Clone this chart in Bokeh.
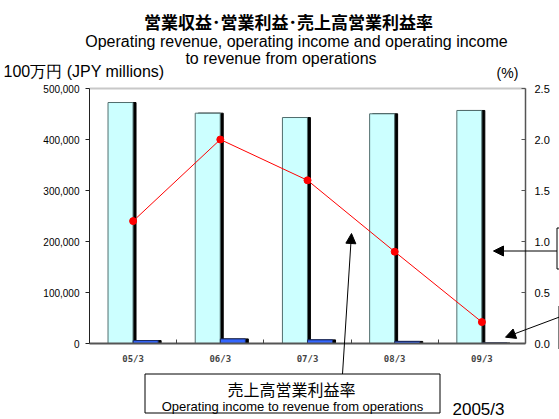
from bokeh.plotting import figure
from bokeh.models import (Range1d, LinearAxis, FixedTicker, NumeralTickFormatter, Label,
                          Arrow, NormalHead, PolyAnnotation, ColumnDataSource)
from bokeh.transform import dodge
from bokeh.embed import file_html
from bokeh.resources import INLINE

# ---- data ----
periods = ["05/3", "06/3", "07/3", "08/3", "09/3"]
revenue = [472500, 451600, 443100, 450400, 456900]      # 100万円
op_income = [5700, 9000, 7100, 4100, 1000]              # 100万円
margin_pct = [1.20, 2.00, 1.60, 0.90, 0.21]             # %
left_ticks = [0, 100000, 200000, 300000, 400000, 500000]
right_ticks = [0.0, 0.5, 1.0, 1.5, 2.0, 2.5]
LEFT_MAX, RIGHT_MAX = 500000, 2.5

xs = [i + 0.5 for i in range(len(periods))]
src = ColumnDataSource(dict(x=xs, revenue=revenue, op_income=op_income, margin=margin_pct))

# ---- layout (canvas pixels) ----
W, H = 559, 419
AX_L, AX_R, AX_T, AX_B = 89, 525, 88, 343   # plot box in canvas pixels
N = len(periods)

def px_x(X):
    return (X - AX_L) / (AX_R - AX_L) * N
def px_y(Y):
    return (AX_B - Y) / (AX_B - AX_T) * LEFT_MAX
def px_p(Y):
    return (AX_B - Y) / (AX_B - AX_T) * RIGHT_MAX

p = figure(width=W, height=H,
           x_range=Range1d(px_x(0), px_x(W)), y_range=Range1d(px_y(H), px_y(0)),
           output_backend="svg", toolbar_location=None, min_border=0,
           x_axis_type=None, y_axis_type=None)
p.extra_y_ranges = {"pct": Range1d(px_p(H), px_p(0))}
p.xgrid.visible = False
p.ygrid.visible = False
p.outline_line_color = None
p.background_fill_color = "white"
p.border_fill_color = "white"

BW, OFF, SH = 0.287, 0.144, 0.034
p.vbar(x=dodge("x", -OFF + SH), top="revenue", width=BW, source=src,
       fill_color="black", line_color="black")
p.vbar(x=dodge("x", -OFF), top="revenue", width=BW, source=src,
       fill_color="#ccffff", line_color="#526e6e", line_width=1)
p.vbar(x=dodge("x", OFF + SH), top="op_income", width=BW, source=src,
       fill_color="black", line_color="black")
p.vbar(x=dodge("x", OFF), top="op_income", width=BW, source=src,
       fill_color="#3366ff", line_color="#1a2a66", line_width=1)

p.line("x", "margin", source=src, y_range_name="pct", line_color="red", line_width=1)
p.scatter("x", "margin", source=src, y_range_name="pct", size=7,
          fill_color="red", line_color="red")

# x axis
xa = LinearAxis(fixed_location=0, bounds=(0, N),
                ticker=FixedTicker(ticks=xs, minor_ticks=list(range(1, N))))
xa.major_label_overrides = {x: lab for x, lab in zip(xs, periods)}
xa.major_tick_line_color = None
xa.minor_tick_in = 4
xa.minor_tick_out = 0
xa.minor_tick_line_color = "#444444"
xa.axis_line_color = "#555555"
xa.axis_line_width = 2
xa.major_label_text_font = "DejaVu Sans Mono"
xa.major_label_text_font_size = "9px"
xa.major_label_text_font_style = "bold"
xa.major_label_text_color = "#444444"
xa.major_label_standoff = 4
p.add_layout(xa, "below")

# top frame line
ta = LinearAxis(fixed_location=LEFT_MAX, bounds=(0, N), ticker=FixedTicker(ticks=[]))
ta.axis_line_color = "#c8c8c8"
ta.axis_line_width = 2
ta.major_tick_line_color = None
ta.minor_tick_line_color = None
ta.major_label_text_font_size = "0px"
p.add_layout(ta, "above")

# left axis
ya = LinearAxis(fixed_location=0, bounds=(0, LEFT_MAX), ticker=FixedTicker(ticks=left_ticks),
                formatter=NumeralTickFormatter(format="0,0"))
ya.major_tick_out = 4
ya.major_tick_in = 0
ya.minor_tick_line_color = None
ya.axis_line_color = "#222222"
ya.major_tick_line_color = "#222222"
ya.major_label_text_font = "Liberation Sans"
ya.major_label_text_font_size = "10px"
ya.major_label_text_color = "black"
ya.major_label_standoff = 6
p.add_layout(ya, "left")

# right axis
ra = LinearAxis(y_range_name="pct", fixed_location=N, bounds=(0, RIGHT_MAX),
                ticker=FixedTicker(ticks=right_ticks),
                formatter=NumeralTickFormatter(format="0.0"))
ra.major_tick_in = 4
ra.major_tick_out = 0
ra.minor_tick_line_color = None
ra.axis_line_color = "#555555"
ra.axis_line_width = 1.5
ra.major_tick_line_color = "#555555"
ra.major_label_text_font = "Liberation Sans"
ra.major_label_text_font_size = "11px"
ra.major_label_text_color = "black"
ra.major_label_standoff = 9
p.add_layout(ra, "right")

def lab(text, X, Y, size, align="left", font="Liberation Sans", bold=False):
    p.add_layout(Label(x=px_x(X), y=px_y(Y), text=text, text_font=font,
                       text_font_size=size, text_align=align, text_baseline="middle",
                       text_font_style="bold" if bold else "normal", text_color="black"))

def seg(X0, Y0, X1, Y1, head=False):
    p.add_layout(Arrow(end=NormalHead(size=10, fill_color="black", line_color="black") if head else None,
                       x_start=px_x(X0), y_start=px_y(Y0), x_end=px_x(X1), y_end=px_y(Y1),
                       line_color="black", line_width=1))

def box(L, R, T, B):
    p.add_layout(PolyAnnotation(xs=[px_x(L), px_x(R), px_x(R), px_x(L)],
                                ys=[px_y(T), px_y(T), px_y(B), px_y(B)],
                                fill_color="white", fill_alpha=1, line_color=None))
    seg(L, T, R, T)
    seg(R, T, R, B)
    seg(R, B, L, B)
    seg(L, B, L, T)

lab("営業収益･営業利益･売上高営業利益率", 288, 20.5, "17px", align="center",
    font="Noto Sans CJK JP", bold=True)
lab("Operating revenue, operating income and operating income", 296, 41.1, "16px", align="center")
lab("to revenue from operations", 280.5, 58.4, "16px", align="center")
lab("100万円 (JPY millions)", 3, 71.4, "16px")
lab("(%)", 507, 72, "14px", align="center")

# bottom callout box
box(144.5, 439.5, 373.5, 412.5)
lab("売上高営業利益率", 291, 388, "16px", align="center", font="Noto Sans CJK JP")
lab("Operating income to revenue from operations", 292, 405.5, "13px", align="center")
lab("2005/3", 452, 408.5, "17px")

# right callout boxes (mostly outside the picture)
box(556.5, 600, 227.5, 268.5)
box(558.5, 600, 305.5, 348.5)

seg(342, 373.5, 351, 233, head=True)
seg(556.5, 250.5, 493, 250.5, head=True)
seg(558.5, 316.7, 505, 336.7, head=True)

open("out.html", "w").write(file_html(p, INLINE))
